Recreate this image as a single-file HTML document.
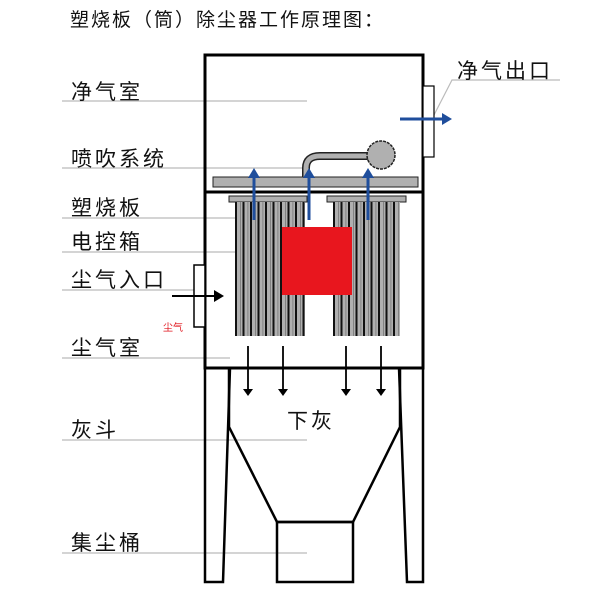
<!DOCTYPE html>
<html><head><meta charset="utf-8"><style>
html,body{margin:0;padding:0;background:#fff;width:605px;height:598px;overflow:hidden}
svg{display:block}
text{font-family:"Liberation Sans","Noto Sans CJK SC",sans-serif}
</style></head><body>
<svg width="605" height="598" viewBox="0 0 605 598" xmlns="http://www.w3.org/2000/svg">
<defs>
<pattern id="fl" x="235" y="0" width="7.5" height="10" patternUnits="userSpaceOnUse">
<rect width="7.5" height="10" fill="#b0b0b0"/><rect x="0" width="2" height="10" fill="#111"/><rect x="5" width="0.8" height="10" fill="#777"/>
</pattern>
<pattern id="fr" x="333" y="0" width="7.5" height="10" patternUnits="userSpaceOnUse">
<rect width="7.5" height="10" fill="#b0b0b0"/><rect x="0" width="2" height="10" fill="#111"/><rect x="5" width="0.8" height="10" fill="#777"/>
</pattern>
</defs>
<text x="70" y="26" font-size="19" fill="#111" letter-spacing="2">塑烧板（筒）除尘器工作原理图：</text>

<g stroke="#bbb" stroke-width="1.2">
<line x1="62" y1="101" x2="307" y2="101"/>
<line x1="62" y1="168" x2="302" y2="168"/>
<line x1="62" y1="218" x2="273" y2="218"/>
<line x1="62" y1="252" x2="307" y2="252"/>
<line x1="62" y1="290" x2="200" y2="290"/>
<line x1="62" y1="358" x2="230" y2="358"/>
<line x1="62" y1="440" x2="307" y2="440"/>
<line x1="62" y1="553" x2="307" y2="553"/>
<polyline points="560,80 452,80 434,115" fill="none"/>
</g>
<g font-size="21" fill="#111" letter-spacing="3">
<text x="71" y="99">净气室</text>
<text x="71" y="166">喷吹系统</text>
<text x="71" y="215">塑烧板</text>
<text x="71" y="249">电控箱</text>
<text x="71" y="287">尘气入口</text>
<text x="71" y="355">尘气室</text>
<text x="71" y="437">灰斗</text>
<text x="71" y="550">集尘桶</text>
<text x="457" y="78">净气出口</text>
<text x="287" y="428">下灰</text>
</g>
<text x="163" y="331" font-size="10" fill="#e0141c">尘气</text>

<rect x="205" y="55" width="218" height="313" fill="none" stroke="#000" stroke-width="3"/>
<line x1="205" y1="192" x2="423" y2="192" stroke="#000" stroke-width="3"/>
<rect x="423" y="86" width="11" height="71" fill="#fff" stroke="#000" stroke-width="1.2"/>
<rect x="194" y="265" width="11" height="62" fill="#fff" stroke="#000" stroke-width="1.5"/>
<rect x="213" y="177" width="205" height="10" fill="#b0b0b0" stroke="#222" stroke-width="1"/>
<path d="M306,177 L306,168 Q306,156 320,156 L372,156" fill="none" stroke="#222" stroke-width="8"/>
<path d="M306,177 L306,168 Q306,156 320,156 L372,156" fill="none" stroke="#b0b0b0" stroke-width="5"/>
<circle cx="381" cy="155" r="14" fill="#b0b0b0" stroke="#222" stroke-width="1.5" stroke-dasharray="3,1"/>
<rect x="229" y="196" width="78" height="6" fill="#b0b0b0" stroke="#222" stroke-width="1"/>
<rect x="327" y="196" width="79" height="6" fill="#b0b0b0" stroke="#222" stroke-width="1"/>
<rect x="235" y="202" width="70" height="134" fill="url(#fl)"/>
<rect x="333" y="202" width="67" height="134" fill="url(#fr)"/>
<rect x="282" y="227" width="70" height="68" fill="#e8161e"/>
<g stroke="#1f4e9c" stroke-width="3">
<line x1="254" y1="220" x2="254" y2="176"/>
<line x1="309" y1="220" x2="309" y2="176"/>
<line x1="368" y1="220" x2="368" y2="176"/>
<line x1="400" y1="119" x2="444" y2="119"/>
</g>
<g fill="#1f4e9c">
<polygon points="248,178 260,178 254,168"/>
<polygon points="303,178 315,178 309,168"/>
<polygon points="362,178 374,178 368,168"/>
<polygon points="442,113 442,125 452,119"/>
</g>
<line x1="172" y1="296" x2="216" y2="296" stroke="#000" stroke-width="2"/>
<polygon points="214,290 214,302 224,296" fill="#000"/>
<g stroke="#000" stroke-width="1.8">
<line x1="248" y1="346" x2="248" y2="390"/>
<line x1="283" y1="346" x2="283" y2="390"/>
<line x1="346" y1="346" x2="346" y2="390"/>
<line x1="381" y1="346" x2="381" y2="390"/>
</g>
<g fill="#000">
<polygon points="243,389 253,389 248,396"/>
<polygon points="278,389 288,389 283,396"/>
<polygon points="341,389 351,389 346,396"/>
<polygon points="376,389 386,389 381,396"/>
</g>
<g fill="none" stroke="#000" stroke-width="2.5">
<polyline points="205,368 205,582 223,582 230,368"/>
<polyline points="423,368 423,582 407,582 399,368"/>
<polyline points="229,368 229,427 277,522 353,522 400,427 400,368"/>
<rect x="277" y="522" width="76" height="60"/>
</g>
</svg>
</body></html>
